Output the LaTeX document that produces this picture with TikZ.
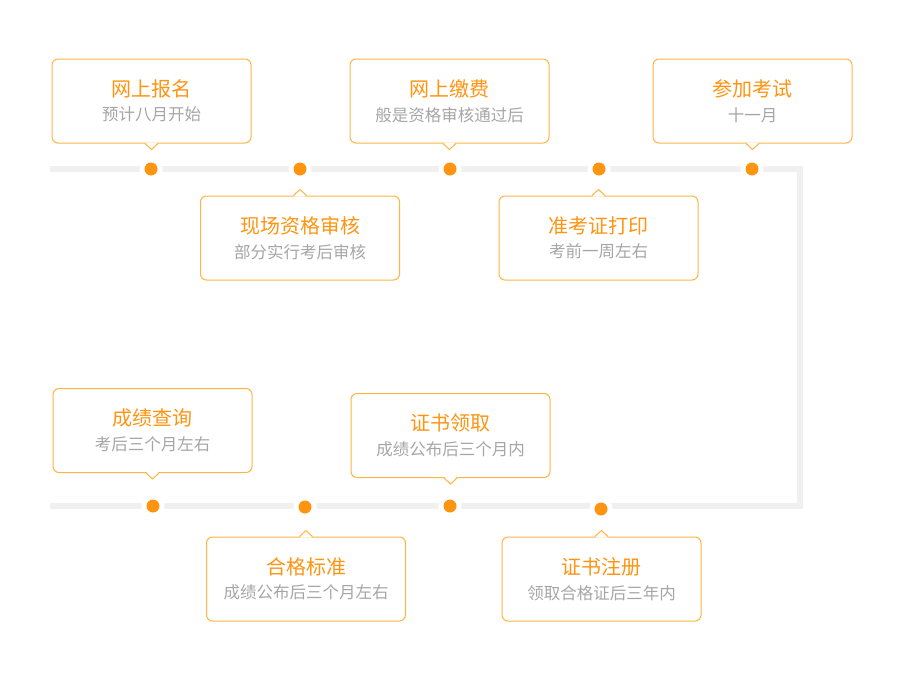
\documentclass[tikz,border=0pt]{standalone}
\usepackage{fontspec}
\usepackage{tikz}
\usetikzlibrary{positioning}
\newfontfamily\cjk{Noto Sans CJK SC}
\definecolor{hot}{HTML}{FF9411}
\definecolor{edgeo}{HTML}{FFB445}
\definecolor{sub}{HTML}{A6A6A6}
\definecolor{rail}{HTML}{F0F0F0}

\newcommand{\steptext}[2]{{\fontsize{20}{26}\selectfont\color{hot}#1}\\[8pt]{\fontsize{16.5}{22}\selectfont\color{sub}#2}}

\begin{document}
\begin{tikzpicture}[x=1pt,y=-1pt,
  box/.style={draw=edgeo, line width=1pt, rounded corners=6pt, fill=white,
    minimum width=199pt, minimum height=84pt, align=center, inner sep=0pt,
    font=\cjk},
  dot/.style={circle, fill=hot, inner sep=0pt, minimum size=13pt,
    preaction={draw=white, line width=10pt}},
  rail/.style={draw=rail, line width=6pt}]
\useasboundingbox[fill=white] (0,0) rectangle (900,675);

% track
\coordinate (s) at (50,169);
\coordinate (c1) at (800,169);
\coordinate (c2) at (800,506);
\coordinate (e) at (50,506);
\draw[rail] (s) -- (c1) -- (c2) -- (e);

% dots
\node[dot] (d1) at (151,169) {};
\node[dot] (d2) at (300,169) {};
\node[dot] (d3) at (450,169) {};
\node[dot] (d4) at (599,169) {};
\node[dot] (d5) at (752,169) {};
\node[dot] (d6) at (153,506) {};
\node[dot] (d7) at (305,507) {};
\node[dot] (d8) at (450,506) {};
\node[dot] (d9) at (601,509) {};

% boxes
\node[box] (b1) at (151.5,101) {\steptext{网上报名}{预计八月开始}};
\node[box] (b2) at (300,238) {\steptext{现场资格审核}{部分实行考后审核}};
\node[box] (b3) at (449.5,101) {\steptext{网上缴费}{般是资格审核通过后}};
\node[box] (b4) at (598.5,238) {\steptext{准考证打印}{考前一周左右}};
\node[box] (b5) at (752.5,101) {\steptext{参加考试}{十一月}};
\node[box] (b6) at (152.5,430.5) {\steptext{成绩查询}{考后三个月左右}};
\node[box] (b7) at (306,579) {\steptext{合格标准}{成绩公布后三个月左右}};
\node[box] (b8) at (450.5,435.5) {\steptext{证书领取}{成绩公布后三个月内}};
\node[box] (b9) at (601.5,579) {\steptext{证书注册}{领取合格证后三年内}};

% pointers
\foreach \b in {b1,b3,b5,b6,b8} {
  \fill[white] ([xshift=-6pt,yshift=1pt]\b.south) -- ([yshift=-6pt]\b.south) -- ([xshift=6pt,yshift=1pt]\b.south) -- cycle;
  \draw[edgeo, line width=1pt] ([xshift=-6.5pt]\b.south) -- ([yshift=-6pt]\b.south) -- ([xshift=6.5pt]\b.south);
}
\foreach \b in {b2,b4,b7,b9} {
  \fill[white] ([xshift=-6pt,yshift=-1pt]\b.north) -- ([yshift=6pt]\b.north) -- ([xshift=6pt,yshift=-1pt]\b.north) -- cycle;
  \draw[edgeo, line width=1pt] ([xshift=-6.5pt]\b.north) -- ([yshift=6pt]\b.north) -- ([xshift=6.5pt]\b.north);
}
\end{tikzpicture}
\end{document}
